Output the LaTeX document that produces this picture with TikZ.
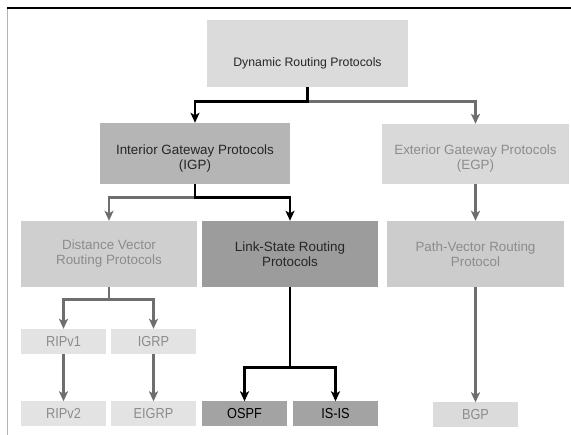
\documentclass[tikz,border=0pt]{standalone}
\usepackage{fontspec}
\setmainfont{Liberation Sans}
\newfontfamily\leaffont[FakeStretch=0.88]{Liberation Sans}
\usetikzlibrary{arrows.meta}

\definecolor{linegray}{HTML}{6E6E6E}
\definecolor{txtdark}{HTML}{262626}
\definecolor{txtlight}{HTML}{8C8C8C}
% pushes the first text line down inside a tall box
\newcommand{\lowstrut}[1]{\rule{0pt}{#1}}

\begin{document}
\begin{tikzpicture}[x=1pt,y=-1pt,>={Stealth[length=10pt,width=9pt,inset=2.5pt]},
  box/.style={inner sep=2pt,align=center,font=\fontsize{13.4}{15}\selectfont},
  leaf/.style={box,minimum width=85pt,minimum height=25pt,text depth=0.5pt,font=\leaffont\fontsize{14.5}{16}\selectfont},
  blk/.style={->,line width=2.7pt,black},
  gry/.style={->,line width=2.7pt,linegray}]
  \useasboundingbox[fill=white] (0,0) rectangle (571,435);
  % frame lines
  \draw[black,line width=1.6pt] (7,8) -- (571,8);
  \draw[gray!60,line width=1pt] (7,9.5) -- (7,435);

  % top level
  \node[box,fill=gray!28,text=txtdark,minimum width=201pt,minimum height=67pt,font=\fontsize{12.3}{14}\selectfont] (dyn) at (307.5,53.5) {\lowstrut{28pt}Dynamic Routing Protocols};

  % IGP / EGP
  \node[box,fill=gray!58,text=txtdark,minimum width=190pt,minimum height=61pt] (igp) at (195,153.5) {\lowstrut{19pt}Interior Gateway Protocols\\(IGP)};
  \node[box,fill=gray!30,text=txtlight,minimum width=187pt,minimum height=60pt] (egp) at (475.5,154) {\lowstrut{19pt}Exterior Gateway Protocols\\(EGP)};

  % routing protocol classes
  \node[box,fill=gray!38,text=txtlight,minimum width=176pt,minimum height=66pt] (dv) at (109,254) {Distance Vector\\Routing Protocols};
  \node[box,fill=gray!78,text=txtdark,minimum width=176pt,minimum height=66pt] (ls) at (290,254) {Link-State Routing\\Protocols};
  \node[box,fill=gray!40,text=txtlight,minimum width=177pt,minimum height=66pt] (pv) at (475.5,254) {Path-Vector Routing\\Protocol};

  % protocols
  \node[leaf,fill=gray!22,text=txtlight] (ripa) at (63.5,341.5) {RIPv1};
  \node[leaf,fill=gray!22,text=txtlight] (igrp) at (153.5,341.5) {IGRP};
  \node[leaf,fill=gray!22,text=txtlight] (ripb) at (63.5,414) {RIPv2};
  \node[leaf,fill=gray!22,text=txtlight] (eigrp) at (153.5,414) {EIGRP};
  \node[leaf,fill=gray!72,text=black] (ospf) at (244.5,414) {OSPF};
  \node[leaf,fill=gray!72,text=black] (isis) at (335.5,414) {IS-IS};
  \node[leaf,fill=gray!28,text=txtlight] (bgp) at (475.5,415) {BGP};

  % connectors
  \draw[gry] (dyn.south) -- ++(0,14) -| (egp.north);
  \draw[blk] (dyn.south) -- ++(0,14) -| (igp.north);
  \draw[gry] (igp.south) -- ++(0,13) -| (dv.north);
  \draw[blk] (igp.south) -- ++(0,13) -| (ls.north);
  \draw[gry] (egp.south) -- (pv.north);
  \draw[gry] (dv.south) -- ++(0,12) -| (ripa.north);
  \draw[gry] (dv.south) -- ++(0,12) -| (igrp.north);
  \draw[gry] (ripa) -- (ripb);
  \draw[gry] (igrp) -- (eigrp);
  \draw[blk] (ls.south) -- ++(0,80) -| (ospf.north);
  \draw[blk] (ls.south) -- ++(0,80) -| (isis.north);
  \draw[gry] (pv.south) -- (bgp.north);
\end{tikzpicture}
\end{document}
